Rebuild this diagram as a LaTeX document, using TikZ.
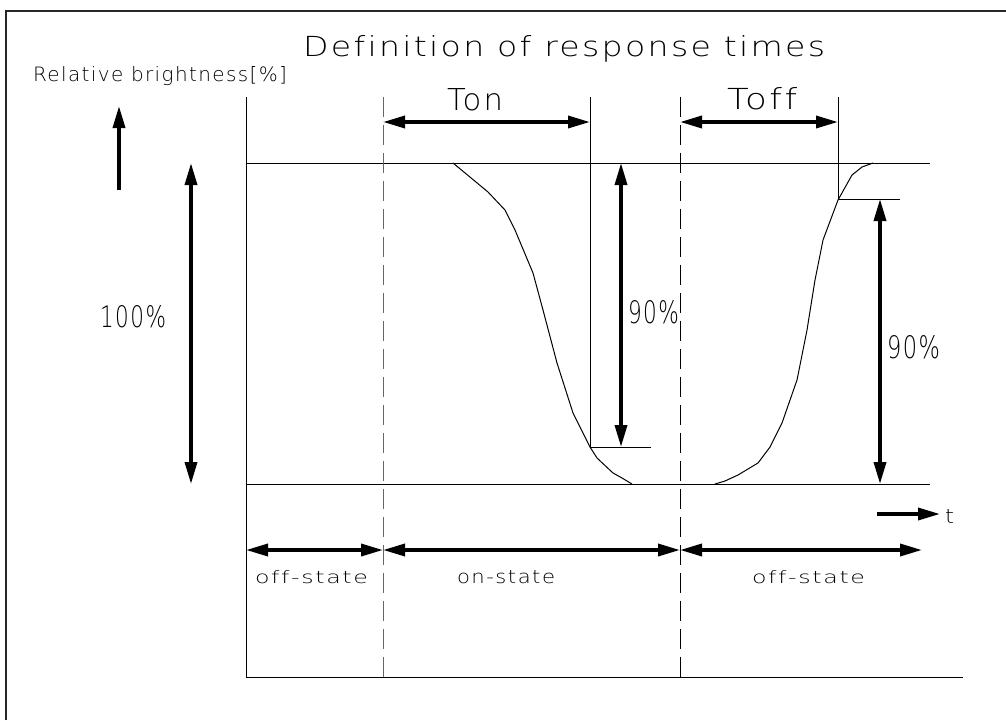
\documentclass[tikz,border=0pt]{standalone}
\usepackage{fontspec}
\setmainfont{DejaVu Sans ExtraLight}[LetterSpace=7,Ligatures=NoCommon]
\usetikzlibrary{arrows.meta}
\newcommand\cadtxt[3]{\resizebox{#1pt}{#2pt}{#3}}
\begin{document}
\begin{tikzpicture}[x=1pt,y=-1pt,
  thin/.style={line width=1pt,black},
  frameline/.style={line width=1.5pt,black!85},
  dashline/.style={line width=1pt,dash pattern=on 20pt off 8pt},
  onearrow/.style={line width=3.5pt,-{Triangle[length=22pt,width=12pt]}},
  twoarrow/.style={line width=3.5pt,{Triangle[length=22pt,width=12pt]}-{Triangle[length=22pt,width=12pt]}},
  lbl/.style={inner sep=0pt,outer sep=0pt,anchor=base west}]
\useasboundingbox (0,0) rectangle (1006,720);
% frame
\coordinate (fTL) at (6,11);
\coordinate (fTR) at (1006,11);
\coordinate (fBL) at (6,720);
\draw[frameline] (fBL) -- (fTL) -- (fTR);
% coordinates
\coordinate (axT) at (246,97);
\coordinate (axB) at (246,677);
\coordinate (axR) at (963,677);
\coordinate (topL) at (246,163);
\coordinate (topR) at (930,163);
\coordinate (botL) at (246,484);
\coordinate (botR) at (930,484);
\coordinate (d1T) at (383,97);
\coordinate (d1B) at (383,677);
\coordinate (d2T) at (680,97);
\coordinate (d2B) at (680,677);
\coordinate (tonT) at (590,97);
\coordinate (tonB) at (590,447);
\coordinate (tonM) at (651,447);
\coordinate (toffT) at (838,97);
\coordinate (toffB) at (838,199);
\coordinate (toffM) at (900,199);
\coordinate (tonA1) at (383,122);
\coordinate (tonA2) at (590,122);
\coordinate (toffA1) at (680,122);
\coordinate (toffA2) at (838,122);
\coordinate (aT) at (191,163);
\coordinate (aB) at (191,484);
\coordinate (upB) at (119,190);
\coordinate (upT) at (119,106);
\coordinate (n1T) at (621,163);
\coordinate (n1B) at (621,447);
\coordinate (n2T) at (880,199);
\coordinate (n2B) at (880,484);
\coordinate (tA) at (877,514);
\coordinate (tB) at (940,514);
\coordinate (s0) at (246,550);
\coordinate (s1) at (383,550);
\coordinate (s2) at (680,550);
\coordinate (s3) at (922,550);
% axes and reference lines
\draw[thin] (axT) -- (axB) -- (axR);
\draw[thin] (topL) -- (topR);
\draw[thin] (botL) -- (botR);
\draw[dashline,black!60] (d1T) -- (d1B);
\draw[dashline,black] (d2T) -- (d2B);
\draw[thin] (tonT) -- (tonB) -- (tonM);
\draw[thin] (toffT) -- (toffB) -- (toffM);
% curves
\draw[thin] plot coordinates {(453,163) (488,192) (505,210) (515,230) (533,273) (543,310) (557,363) (573,413) (590,447) (597,458) (613,473) (622,478) (632,484)};
\draw[thin] plot coordinates {(715,484) (725,481) (738,475) (758,463) (770,447) (782,423) (797,380) (807,330) (815,280) (823,240) (838,200) (852,175) (862,167) (873,163)};
% arrows
\draw[onearrow] (upB) -- (upT);
\draw[twoarrow] (aT) -- (aB);
\draw[twoarrow] (tonA1) -- (tonA2);
\draw[twoarrow] (toffA1) -- (toffA2);
\draw[twoarrow] (n1T) -- (n1B);
\draw[twoarrow] (n2T) -- (n2B);
\draw[onearrow] (tA) -- (tB);
\draw[twoarrow] (s0) -- (s1);
\draw[twoarrow] (s1) -- (s2);
\draw[twoarrow] (s2) -- (s3);
% texts
\node[lbl] (title) at (303,56) {\cadtxt{522}{21}{Definition of response times}};
\node[lbl] (ylab) at (33,81) {\cadtxt{254}{15}{Relative brightness[\%]}};
\node[lbl] (ton) at (447,110) {\cadtxt{56}{22}{Ton}};
\node[lbl] (toff) at (727,109) {\cadtxt{70}{22}{Toff}};
\node[lbl] (p100) at (100,327) {\cadtxt{66}{22}{100\%}};
\node[lbl] (p90a) at (628,323) {\cadtxt{51}{23}{90\%}};
\node[lbl] (p90b) at (887,358) {\cadtxt{53}{23}{90\%}};
\node[lbl] (tlab) at (945,523) {\cadtxt{9}{14}{t}};
\node[lbl] (off1) at (255,583) {\cadtxt{113}{13}{off-state}};
\node[lbl] (on1) at (457,583) {\cadtxt{98}{13}{on-state}};
\node[lbl] (off2) at (752,583) {\cadtxt{113}{13}{off-state}};
\end{tikzpicture}
\end{document}
